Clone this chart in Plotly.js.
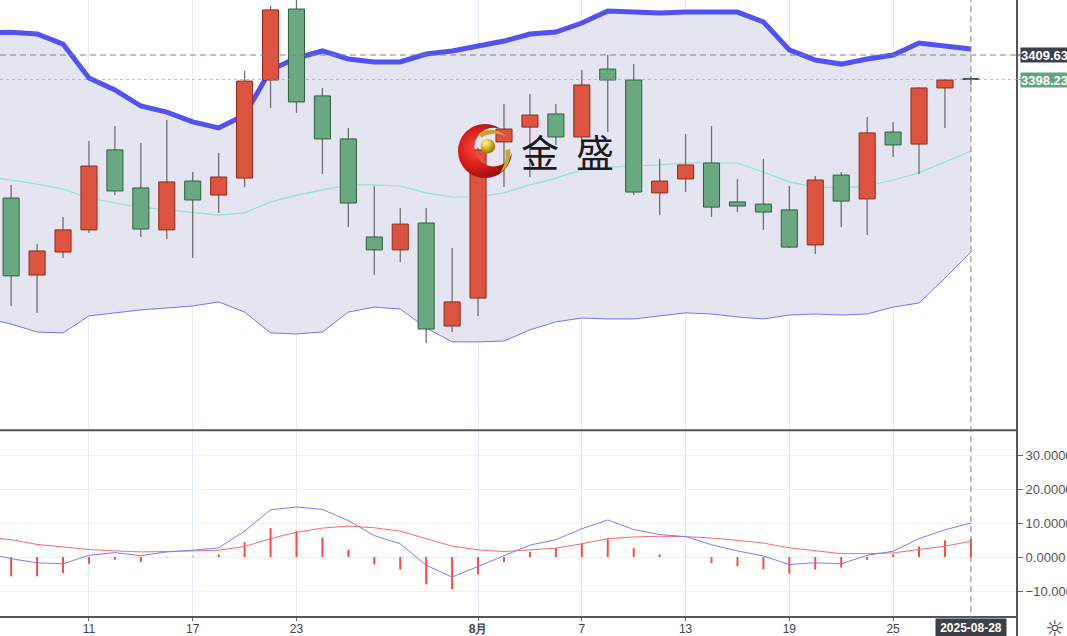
<!DOCTYPE html>
<html>
<head>
<meta charset="utf-8">
<script src="https://cdn.plot.ly/plotly-3.0.1.min.js"></script>
<style>
html,body{margin:0;padding:0;background:#fff;}
#chart{width:1067px;height:636px;}
</style>
</head>
<body>
<div id="chart"></div>
<script>
// ---------- data ----------
const dates = ['2025-07-07','2025-07-08','2025-07-09','2025-07-10','2025-07-11','2025-07-14','2025-07-15','2025-07-16','2025-07-17','2025-07-18','2025-07-21','2025-07-22','2025-07-23','2025-07-24','2025-07-25','2025-07-28','2025-07-29','2025-07-30','2025-07-31','2025-08-01','2025-08-04','2025-08-05','2025-08-06','2025-08-07','2025-08-08','2025-08-11','2025-08-12','2025-08-13','2025-08-14','2025-08-15','2025-08-18','2025-08-19','2025-08-20','2025-08-21','2025-08-22','2025-08-25','2025-08-26','2025-08-27','2025-08-28'];

const openP  = [null,3343.1,3307.3,3318.0,3328.3,3365.5,3347.8,3328.3,3351.0,3344.5,3352.4,3398.0,3431.0,3390.6,3370.6,3325.0,3319.0,3331.5,3283.6,3296.6,3369.2,3376.1,3382.2,3371.5,3403.1,3398.0,3345.5,3352.0,3359.4,3341.3,3340.3,3337.6,3321.3,3353.8,3342.7,3373.8,3368.2,3394.3,3398.7];
const highP  = [null,3349.2,3321.7,3334.3,3369.6,3376.6,3368.7,3379.4,3355.2,3364.1,3402.2,3432.4,3437.5,3394.3,3375.7,3348.7,3338.5,3338.5,3319.9,3366.5,3386.8,3391.5,3386.8,3402.7,3409.6,3405.4,3361.3,3372.9,3376.6,3352.0,3361.3,3348.7,3353.4,3355.2,3380.8,3378.5,3394.6,3398.5,3399.9];
const lowP   = [null,3292.9,3289.7,3315.2,3326.9,3344.5,3325.0,3324.1,3315.2,3336.2,3348.2,3385.0,3382.7,3354.3,3329.6,3307.3,3313.4,3275.7,3280.8,3288.3,3348.2,3352.9,3367.8,3368.7,3373.8,3344.5,3335.2,3345.9,3334.3,3336.6,3328.3,3319.9,3317.1,3329.6,3325.9,3362.2,3354.3,3375.7,3395.7];
const closeP = [null,3306.9,3318.5,3328.3,3358.0,3346.4,3328.7,3350.6,3342.2,3352.9,3397.5,3430.6,3387.8,3370.6,3340.8,3319.0,3331.0,3282.2,3294.8,3365.5,3375.2,3381.7,3371.5,3395.7,3398.0,3345.9,3351.0,3358.5,3338.9,3339.4,3336.6,3320.3,3351.5,3341.7,3373.4,3367.8,3394.3,3398.0,3398.23];

const bollUpper = [3419.9,3420.2,3419.4,3414.7,3398.9,3393.4,3385.9,3383.1,3378.5,3375.7,3381.7,3402.7,3408.2,3411.5,3407.8,3406.4,3406.4,3410.1,3411.5,3413.8,3416.1,3419.4,3420.3,3424.5,3430.1,3429.6,3429.2,3429.6,3429.6,3429.6,3425.0,3412.0,3407.3,3405.4,3407.8,3409.6,3415.2,3413.8,3412.4];
const bollMid   = [3352.9,3351.5,3349.6,3347.3,3343.1,3340.8,3338.9,3337.6,3336.2,3335.2,3336.2,3341.3,3344.5,3346.9,3349.2,3349.2,3348.7,3345.5,3343.6,3343.6,3345.5,3349.2,3352.4,3356.2,3357.5,3358.0,3358.5,3359.4,3359.4,3359.4,3355.2,3350.6,3348.2,3347.8,3348.7,3351.5,3354.8,3359.9,3365.0];
const bollLower = [3287.3,3284.5,3280.8,3280.4,3288.3,3289.7,3291.1,3292.0,3292.9,3294.8,3290.1,3280.4,3279.9,3280.8,3290.1,3292.4,3291.5,3282.7,3276.2,3276.2,3276.6,3281.8,3285.5,3287.3,3286.9,3286.9,3288.3,3289.7,3289.2,3287.8,3286.9,3288.7,3289.2,3288.7,3289.2,3292.4,3294.3,3305.9,3318.0];

const macdDif  = [1.2,-0.5,-1.7,-2.0,0.5,1.3,0.4,1.5,2.0,2.7,7.6,13.9,14.7,14.0,10.7,6.3,3.9,-2.4,-5.9,-2.7,0.5,3.5,5.1,8.3,10.9,8.1,6.6,6.0,3.6,1.8,0.3,-2.2,-1.7,-2.0,0.5,1.7,5.4,8.0,10.0];
const macdDea  = [5.9,5.1,3.7,2.9,2.2,1.8,1.5,1.6,1.7,2.0,3.1,5.4,7.3,8.5,9.1,8.6,7.6,5.4,3.2,2.1,1.6,2.1,2.6,3.9,5.4,5.9,6.1,6.0,5.6,4.9,4.1,2.7,1.8,1.0,1.0,1.2,2.2,3.2,4.6];
const macdHist = [-4.7,-5.7,-5.7,-4.7,-2.0,-0.8,-1.5,-0.1,0.2,0.8,4.4,8.5,7.6,5.7,2.1,-2.2,-3.7,-8.0,-9.5,-5.1,-1.5,1.5,2.6,4.1,5.4,2.6,0.8,0.1,-1.8,-2.7,-3.6,-4.9,-3.7,-3.1,-0.8,0.8,3.1,4.9,5.4];

const tickDates  = ['2025-07-11','2025-07-17','2025-07-23','2025-08-01','2025-08-07','2025-08-13','2025-08-19','2025-08-25'];
const tickLabels = ['11','17','23','<b>8月</b>','7','13','19','25'];
const macdTicks  = [-10,0,10,20,30];

const crossPrice = 3409.63;
const lastPrice  = 3398.23;
const crossDateLabel = '2025-08-28';
const logoText = ['金','盛'];

// ---------- derived ----------
const UP = '#dc5340', UP_LINE = '#8e2a1e';
const DN = '#6aa882', DN_LINE = '#2f5f40';
const bodyBase = [], bodyLen = [], bodyCol = [], bodyLine = [], wickBase = [], wickLen = [];
for (let i = 0; i < dates.length; i++) {
  if (openP[i] == null) { bodyBase.push(null); bodyLen.push(null); bodyCol.push(UP); bodyLine.push(UP_LINE); wickBase.push(null); wickLen.push(null); continue; }
  const up = closeP[i] >= openP[i];
  bodyBase.push(Math.min(openP[i], closeP[i]));
  bodyLen.push(Math.max(Math.abs(closeP[i] - openP[i]), 0.45));
  bodyCol.push(up ? UP : DN);
  bodyLine.push(up ? UP_LINE : DN_LINE);
  wickBase.push(lowP[i]);
  wickLen.push(highP[i] - lowP[i]);
}
const lastIdx = dates.indexOf(crossDateLabel);

const mainRange = [3235.255, 3435.205];
const FONT = 'Liberation Sans, Arial, sans-serif';

const traces = [
  { type:'scatter', mode:'lines', x:dates, y:bollLower, xaxis:'x', yaxis:'y',
    line:{color:'#7474ff', width:1}, hoverinfo:'skip' },
  { type:'scatter', mode:'lines', x:dates, y:bollUpper, xaxis:'x', yaxis:'y',
    fill:'tonexty', fillcolor:'rgb(229,229,241)',
    line:{color:'#5151f4', width:5}, hoverinfo:'skip' },
  { type:'scatter', mode:'lines', x:dates, y:bollMid, xaxis:'x', yaxis:'y',
    line:{color:'#8fe3c6', width:1.2}, hoverinfo:'skip' },
  { type:'bar', x:dates, base:wickBase, y:wickLen, xaxis:'x', yaxis:'y3',
    width:0.05, marker:{color:'#6e6e6e', line:{width:0}}, hoverinfo:'skip' },
  { type:'bar', x:dates, base:bodyBase, y:bodyLen, xaxis:'x', yaxis:'y3',
    width:0.62, marker:{color:bodyCol, line:{color:bodyLine, width:1}}, hoverinfo:'skip' },
  { type:'bar', x:dates, y:macdHist, xaxis:'x', yaxis:'y2',
    width:0.075, marker:{color:'#ff4545', line:{width:0}}, hoverinfo:'skip' },
  { type:'scatter', mode:'lines', x:dates, y:macdDea, xaxis:'x', yaxis:'y2',
    line:{color:'#ff6a6a', width:1}, hoverinfo:'skip' },
  { type:'scatter', mode:'lines', x:dates, y:macdDif, xaxis:'x', yaxis:'y2',
    line:{color:'#7c7cff', width:1}, hoverinfo:'skip' }
];

const logoSvg = "<svg xmlns='http://www.w3.org/2000/svg' viewBox='0 0 60 60'>" +
  "<defs>" +
  "<radialGradient id='r' cx='0.35' cy='0.45' r='0.7'><stop offset='0' stop-color='#ff4a3a'/><stop offset='0.55' stop-color='#d01818'/><stop offset='1' stop-color='#7e0808'/></radialGradient>" +
  "<radialGradient id='g' cx='0.35' cy='0.3' r='0.75'><stop offset='0' stop-color='#fff6b0'/><stop offset='0.5' stop-color='#d8b424'/><stop offset='1' stop-color='#8c6c00'/></radialGradient>" +
  "<mask id='m'><rect width='60' height='60' fill='white'/><circle cx='39' cy='26' r='20' fill='black'/></mask>" +
  "</defs>" +
  "<circle cx='30' cy='30' r='28' fill='url(#r)' mask='url(#m)'/>" +
  "<path d='M24 12 Q38 3 53 15 Q40 9 26 16 Z' fill='#c9a52a'/>" +
  "<path d='M56 28 Q58 45 45 53 Q53 42 51 29 Z' fill='#c9a52a'/>" +
  "<circle cx='33' cy='25' r='7.5' fill='url(#g)'/>" +
  "</svg>";
const logoSrc = 'data:image/svg+xml;charset=utf-8,' + encodeURIComponent(logoSvg);

const W = 1017, H = 616;
const layout = {
  width:1067, height:636,
  margin:{l:0, r:50, t:0, b:20},
  paper_bgcolor:'#ffffff', plot_bgcolor:'#ffffff',
  showlegend:false, barmode:'overlay', hovermode:false,
  font:{family:FONT, color:'#444'},
  xaxis:{
    type:'category', range:[0.5705, 39.777], anchor:'y2',
    tickvals:tickDates, ticktext:tickLabels, tickangle:0,
    ticks:'outside', ticklen:3, tickcolor:'#666', ticklabelstandoff:-2,
    tickfont:{size:12, color:'#444', family:FONT},
    showgrid:true, gridcolor:'#e2ecf3', gridwidth:1,
    showline:true, linecolor:'#555', linewidth:2, zeroline:false, fixedrange:true
  },
  yaxis:{
    domain:[0.302, 1], range:mainRange, side:'right',
    showgrid:false, showticklabels:false, ticks:'', zeroline:false, showline:false, fixedrange:true
  },
  yaxis3:{
    overlaying:'y', range:mainRange, visible:false, fixedrange:true
  },
  yaxis2:{
    domain:[0, 0.3], range:[-17.35, 37.0], side:'right',
    tickvals:macdTicks, tickformat:'.4f',
    ticks:'outside', ticklen:5, tickcolor:'#666',
    tickfont:{size:13, color:'#555', family:FONT},
    showgrid:true, gridcolor:'#edf2f6', zeroline:false, showline:false, fixedrange:true
  },
  shapes:[
    {type:'line', xref:'paper', yref:'paper', x0:0, x1:1, y0:0.3015, y1:0.3015, line:{color:'#555', width:2}},
    {type:'line', xref:'paper', yref:'paper', x0:1, x1:1, y0:-0.05, y1:1, line:{color:'#555', width:2}},
    {type:'line', xref:'paper', yref:'y', x0:0, x1:1, y0:lastPrice, y1:lastPrice, layer:'above',
      line:{color:'rgba(110,175,140,0.6)', width:1, dash:'dot'}},
    {type:'line', xref:'paper', yref:'y', x0:0, x1:1, y0:crossPrice, y1:crossPrice, layer:'above',
      line:{color:'#808080', width:1, dash:'6px,4px'}},
    {type:'line', xref:'x', yref:'paper', x0:lastIdx, x1:lastIdx, y0:-0.01, y1:1, layer:'above',
      line:{color:'#808080', width:1, dash:'6px,4px'}},
    {type:'line', xref:'paper', yref:'y', x0:1, x1:1 + 5/W, y0:crossPrice, y1:crossPrice, line:{color:'#555', width:1}},
    {type:'line', xref:'paper', yref:'y', x0:1, x1:1 + 5/W, y0:lastPrice, y1:lastPrice, line:{color:'#8fbfa0', width:1}}
  ],
  annotations:[
    {xref:'paper', yref:'y', x:1 + 3/W, y:crossPrice, xanchor:'left', yanchor:'middle',
      text:'<b>' + crossPrice.toFixed(2) + '</b>', showarrow:false, align:'left',
      bgcolor:'#3c4048', borderpad:0, width:50, height:14,
      font:{size:13, color:'#ffffff', family:FONT}},
    {xref:'paper', yref:'y', x:1 + 3/W, y:lastPrice, xanchor:'left', yanchor:'middle',
      text:'<b>' + lastPrice.toFixed(2) + '</b>', showarrow:false, align:'left',
      bgcolor:'#62a67b', borderpad:0, width:50, height:14,
      font:{size:13, color:'#ffffff', family:FONT}},
    {xref:'x', yref:'paper', x:lastIdx, y:0, xanchor:'center', yanchor:'top', yshift:-2,
      text:'<b>' + crossDateLabel + '</b>', showarrow:false,
      bgcolor:'#3c4048', borderpad:0, width:70, height:18,
      font:{size:12, color:'#ffffff', family:FONT}},
    {xref:'paper', yref:'paper', x:1055/W, y:(H - 628)/H, xanchor:'center', yanchor:'middle',
      text:'☼', showarrow:false, font:{size:22, color:'#333', family:'DejaVu Sans'}},
    {xref:'paper', yref:'paper', x:540/W, y:(H - 151)/H, xanchor:'center', yanchor:'middle',
      text:logoText[0], showarrow:false, font:{size:38, color:'#1c1c1c', family:'Noto Sans CJK SC'}},
    {xref:'paper', yref:'paper', x:595/W, y:(H - 151)/H, xanchor:'center', yanchor:'middle',
      text:logoText[1], showarrow:false, font:{size:38, color:'#1c1c1c', family:'Noto Sans CJK SC'}}
  ],
  images:[
    {source:logoSrc, xref:'paper', yref:'paper', x:456/W, y:(H - 122)/H,
      sizex:58/W, sizey:58/H, sizing:'stretch', xanchor:'left', yanchor:'top', layer:'above', opacity:1}
  ]
};

Plotly.newPlot('chart', traces, layout, {displayModeBar:false, staticPlot:true});
</script>
</body>
</html>
